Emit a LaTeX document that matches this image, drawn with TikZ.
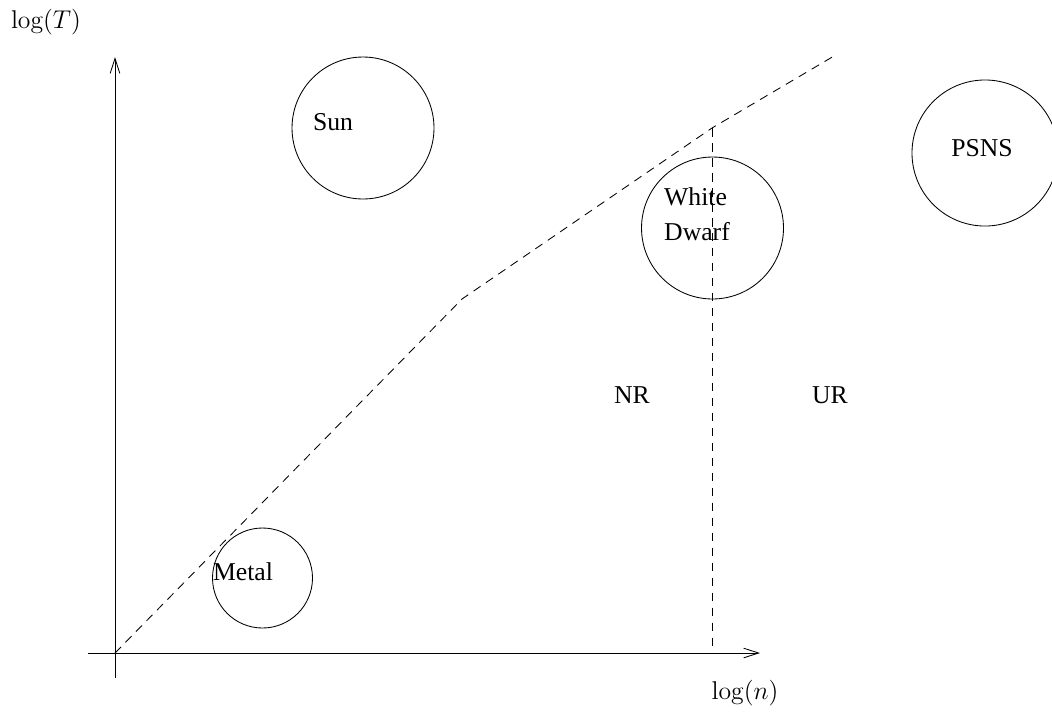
\documentclass[tikz,border=0pt]{standalone}
\usepackage{fontspec}
\newfontfamily\timesfont{Liberation Serif}
\usetikzlibrary{arrows.meta}

\begin{document}
\begin{tikzpicture}[x=0.467pt, y=-0.467pt, >={Straight Barb[length=7pt,width=4.5pt]},
  font=\fontsize{12}{14}\selectfont,
  orb/.style={draw, circle, inner sep=0pt, minimum size=#1},
  lbl/.style={font=\timesfont\fontsize{12}{16.3}\selectfont, inner sep=0pt},
  limit/.style={dash pattern=on 4pt off 3pt}]
  \useasboundingbox (0,0) rectangle (1052,714);

  % axes
  \coordinate (origin) at (115,653);
  \coordinate (ybot) at (115,678);
  \coordinate (ytop) at (115,57);
  \coordinate (xleft) at (88,653);
  \coordinate (xright) at (760,653);
  \draw [->] (ybot) -- (ytop);
  \draw [->] (xleft) -- (xright);
  \node (ylabel) at (46,22) {$\log(T)$};
  \node (xlabel) at (745,693) {$\log(n)$};

  % regions
  \coordinate (bend) at (462,299);
  \coordinate (corner) at (712,128);
  \coordinate (lineend) at (834,56);
  \coordinate (foot) at (712,653);
  \draw [limit] (origin) -- (bend) -- (corner) -- (lineend);
  \draw [limit] (corner) -- (foot);
  \node (nr) [lbl] at (632,395) {NR};
  \node (ur) [lbl] at (830,395) {UR};

  % objects
  \node (sun) [orb=66.3pt] at (363,128) {};
  \node (sunlbl) [lbl] at (333,122) {Sun};
  \node (dwarf) [orb=66.3pt] at (712.5,228) {};
  \node (dwarflbl) [lbl, align=left] at (697,214) {White\\Dwarf};
  \node (metal) [orb=46.7pt] at (262.5,578) {};
  \node (metallbl) [lbl] at (243,572) {Metal};
  \node (psns) [orb=68.2pt] at (985,153) {};
  \node (psnslbl) [lbl] at (982,148) {PSNS};
\end{tikzpicture}
\end{document}
